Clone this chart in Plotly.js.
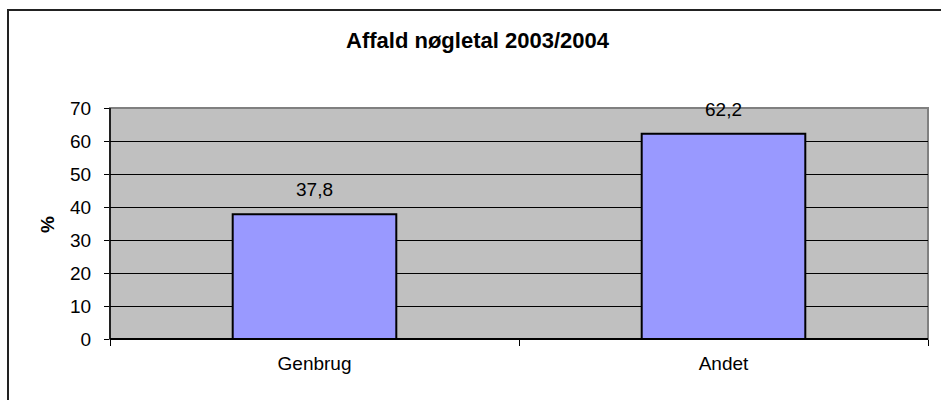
<!DOCTYPE html>
<html>
<head>
<meta charset="utf-8">
<script src="https://cdn.plot.ly/plotly-3.0.1.min.js"></script>
<style>
  html, body { margin: 0; padding: 0; background: #ffffff; }
  #chart { width: 941px; height: 400px; }
</style>
</head>
<body>
<div id="chart"></div>
<script>
const categories = ['Genbrug', 'Andet'];
const values = [37.8, 62.2];
const yTickVals = [0, 10, 20, 30, 40, 50, 60, 70];
const chartTitle = 'Affald nøgletal 2003/2004';
const yTitle = '%';

const FONT = 'Liberation Sans, Arial, sans-serif';
const fmt = v => v.toFixed(1).replace('.', ',');

const trace = {
  type: 'bar',
  x: categories,
  y: values,
  width: 0.4,
  marker: { color: '#9999FF', line: { color: '#000000', width: 2 } },
  hoverinfo: 'none'
};

const annotations = categories.map((c, i) => ({
  x: c, y: values[i], xref: 'x', yref: 'y',
  text: fmt(values[i]),
  showarrow: false,
  yanchor: 'bottom',
  yshift: 12,
  font: { family: FONT, size: 19, color: '#000000' }
}));

annotations.push({
  xref: 'paper', yref: 'paper',
  x: (47 - 110) / 818, y: (339 - 225) / 231,
  text: '<b>' + yTitle + '</b>',
  textangle: -90,
  showarrow: false,
  xanchor: 'center', yanchor: 'middle',
  font: { family: FONT, size: 19, color: '#000000' }
});

const layout = {
  width: 941,
  height: 400,
  margin: { l: 110, r: 13, t: 108, b: 61 },
  paper_bgcolor: '#ffffff',
  plot_bgcolor: '#C0C0C0',
  showlegend: false,
  title: {
    text: '<b>' + chartTitle + '</b>',
    font: { family: FONT, size: 22, color: '#000000' },
    xref: 'container', yref: 'container',
    x: 477.5 / 941, xanchor: 'center',
    y: 1 - 40 / 400, yanchor: 'middle'
  },
  xaxis: {
    type: 'category',
    tickson: 'boundaries',
    ticks: 'outside', ticklen: 6, tickcolor: '#000000', tickwidth: 1,
    ticklabelstandoff: 11,
    showgrid: false,
    showline: false,
    zeroline: false,
    tickfont: { family: FONT, size: 19, color: '#000000' },
    fixedrange: true
  },
  yaxis: {
    range: [0, 70],
    tickmode: 'array',
    tickvals: yTickVals,
    ticktext: yTickVals.map(String),
    ticks: 'outside', ticklen: 5, tickcolor: '#000000', tickwidth: 1,
    ticklabelstandoff: 9,
    showgrid: true, gridcolor: '#000000', gridwidth: 1,
    showline: false,
    zeroline: false,
    tickfont: { family: FONT, size: 19, color: '#000000' },
    fixedrange: true
  },
  shapes: [
    {
      type: 'rect', xref: 'paper', yref: 'paper', layer: 'below',
      x0: 0, x1: 1, y0: 0, y1: 1,
      line: { color: '#808080', width: 2 }, fillcolor: 'rgba(0,0,0,0)'
    },
    {
      type: 'line', xref: 'paper', yref: 'paper', layer: 'above',
      x0: 0, x1: 1, y0: 0, y1: 0,
      line: { color: '#000000', width: 2 }
    },
    {
      type: 'line', xref: 'paper', yref: 'paper', layer: 'above',
      x0: 0, x1: 0, y0: 0, y1: 1,
      line: { color: '#000000', width: 1.5 }
    },
    {
      type: 'rect', xref: 'paper', yref: 'paper', layer: 'below',
      x0: (8 - 110) / 818, x1: (950 - 110) / 818,
      y0: (339 - 410) / 231, y1: (339 - 10) / 231,
      line: { color: '#222222', width: 2 }, fillcolor: 'rgba(0,0,0,0)'
    }
  ],
  annotations: annotations
};

Plotly.newPlot('chart', [trace], layout, { displayModeBar: false, staticPlot: true });
</script>
</body>
</html>
